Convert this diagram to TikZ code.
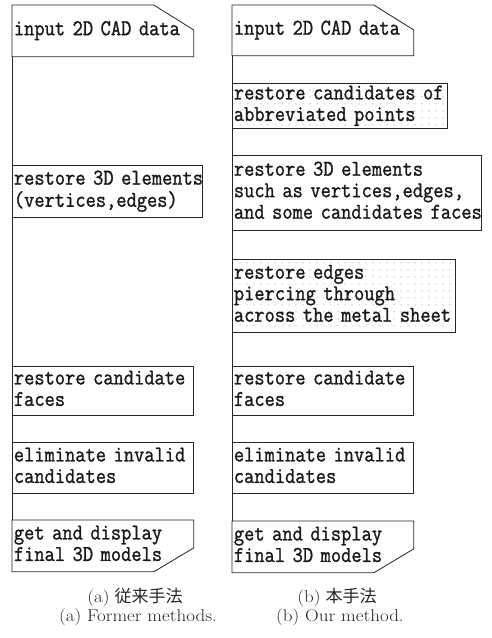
\documentclass[tikz,border=0pt]{standalone}
\usepackage{graphicx}
\usepackage{fontspec}
\newfontfamily\cjk{Noto Sans CJK JP}
\newfontfamily\boxfont[FakeBold=1.2,FakeStretch=0.88]{Latin Modern Mono}
\usetikzlibrary{patterns.meta}
\newcommand\widecap[1]{\scalebox{1.12}[1]{#1}}
% lines of a step, kept unbroken
\newcommand\steplines[1]{\begin{tabular}{@{}l@{}}#1\end{tabular}}
\begin{document}
\begin{tikzpicture}[x=1pt,y=-1pt,
  line width=0.8pt,
  flowline/.style={draw=black!85},
  stepbox/.style={rectangle, anchor=north west, draw=black!85,
    inner xsep=1.5pt, inner ysep=0pt, align=left,
    font=\boxfont\fontsize{22.6}{21.5}\selectfont, text=black!90},
  openbox/.style={stepbox, draw=none},
  shaded/.style={pattern={Dots[distance=6.5pt, radius=0.55pt]}, pattern color=black!55},
  caption/.style={anchor=base, text=black!85, font=\fontsize{17}{17}\selectfont}
]
\useasboundingbox (0,0) rectangle (491,638);

% ---- (a) former methods ----
\node[openbox, text width=178pt, minimum height=51pt] (L1) at (12,5) {\steplines{input 2D CAD data}};
\node[stepbox, text width=187pt, minimum height=52pt] (L2) at (12,165) {\steplines{restore 3D elements\\(vertices,edges)}};
\node[stepbox, text width=178pt, minimum height=49pt] (L3) at (12,366) {\steplines{restore candidate\\faces}};
\node[stepbox, text width=178pt, minimum height=51pt] (L4) at (12,442) {\steplines{eliminate invalid\\candidates}};
\node[openbox, text width=178pt, minimum height=51pt] (L5) at (12,520) {\steplines{get and display\\final 3D models}};

% ---- (b) our method ----
\node[openbox, text width=178pt, minimum height=50pt] (R1) at (232,5) {\steplines{input 2D CAD data}};
\node[stepbox, shaded, text width=212pt, minimum height=45pt] (R2) at (232,83) {\steplines{restore candidates of\\abbreviated points}};
\node[stepbox, text width=246pt, minimum height=75pt] (R3) at (232,155) {\steplines{restore 3D elements\\such as vertices,edges,\\and some candidates faces}};
\node[stepbox, shaded, text width=220pt, minimum height=73pt] (R4) at (232,259) {\steplines{restore edges\\piercing through\\across the metal sheet}};
\node[stepbox, text width=178pt, minimum height=49pt] (R5) at (232,366) {\steplines{restore candidate\\faces}};
\node[stepbox, text width=178pt, minimum height=51pt] (R6) at (232,442) {\steplines{eliminate invalid\\candidates}};
\node[openbox, text width=178pt, minimum height=51pt] (R7) at (232,521) {\steplines{get and display\\final 3D models}};

% card-shaped outlines of the input and output steps
\foreach \n in {L1,R1}
  \draw[flowline] (\n.south west) -- (\n.north west) -- ([xshift=-40pt]\n.north east)
    -- ([yshift=-25pt]\n.north east) -- (\n.south east) -- cycle;
\foreach \n in {L5,R7}
  \draw[flowline] (\n.north west) -- (\n.north east) -- ([yshift=24pt]\n.south east)
    -- ([xshift=-40pt]\n.south east) -- (\n.south west) -- cycle;

% flow lines down the left edge
\draw[flowline] (L1.south west) -- (L2.north west);
\draw[flowline] (L2.south west) -- (L3.north west);
\draw[flowline] (L3.south west) -- (L4.north west);
\draw[flowline] (L4.south west) -- (L5.north west);
\draw[flowline] (R1.south west) -- (R2.north west);
\draw[flowline] (R2.south west) -- (R3.north west);
\draw[flowline] (R3.south west) -- (R4.north west);
\draw[flowline] (R4.south west) -- (R5.north west);
\draw[flowline] (R5.south west) -- (R6.north west);
\draw[flowline] (R6.south west) -- (R7.north west);

% captions
\node[caption] (capaj) at (135,602) {\widecap{(a)} {\cjk 従来手法}};
\node[caption] (capae) at (138,621) {\widecap{(a) Former methods.}};
\node[caption] (capbj) at (337,602) {\widecap{(b)} {\cjk 本手法}};
\node[caption] (capbe) at (340,621) {\widecap{(b) Our method.}};
\end{tikzpicture}
\end{document}
